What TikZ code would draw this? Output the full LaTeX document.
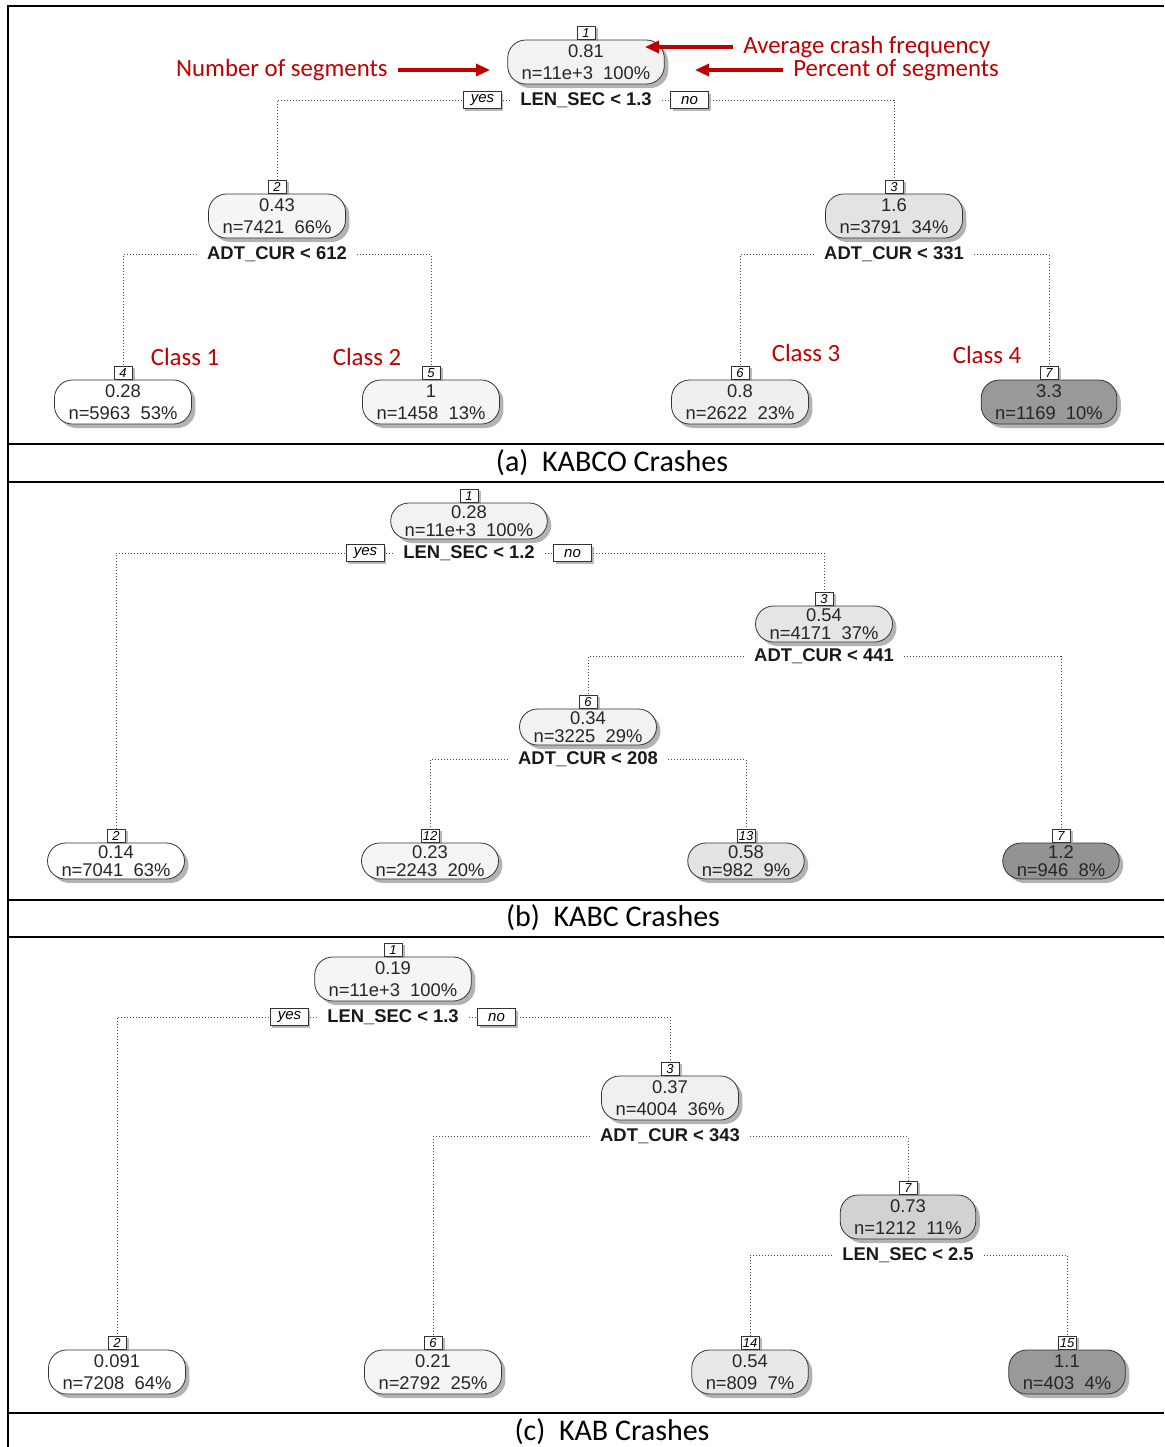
\documentclass[tikz,border=0pt]{standalone}
\usepackage{fontspec}
\setmainfont{Liberation Sans}
\newfontfamily\calibri{Carlito}
\usetikzlibrary{arrows.meta,positioning,shadows}
\definecolor{annotred}{HTML}{C00000}
\tikzstyle{treebox} = [rectangle, draw=black!80, rounded corners=9pt, align=center,
inner xsep=7pt, inner ysep=1pt, minimum height=22pt, text=black!85,
font=\fontsize{9.2}{11}\selectfont,
drop shadow={shadow xshift=2pt, shadow yshift=-2pt, fill=black!50, opacity=0.6}]
\tikzstyle{squeezed} = [minimum height=18pt, font=\fontsize{9.2}{9}\selectfont]
\tikzstyle{numbox} = [rectangle, draw=black!80, fill=white, inner sep=0.5pt,
minimum width=9pt, minimum height=6.5pt, font=\fontsize{6.5}{7}\selectfont\itshape,
drop shadow={shadow xshift=1.5pt, shadow yshift=-1pt, fill=black!45, opacity=0.6}]
\tikzstyle{splitlabel} = [inner xsep=5pt, inner ysep=0pt, text=black!90,
font=\fontsize{9.2}{11}\selectfont\bfseries]
\tikzstyle{yesno} = [rectangle, draw=black!80, fill=white, inner sep=0.5pt,
minimum width=19pt, minimum height=8.5pt, font=\fontsize{7.5}{8}\selectfont\itshape,
drop shadow={shadow xshift=1pt, shadow yshift=-1pt, fill=black!45, opacity=0.6}]
\tikzstyle{branch} = [draw=black!70, line width=0.5pt, dash pattern=on 0.5pt off 1pt]
\tikzstyle{note} = [text=annotred, inner xsep=5pt, inner ysep=1pt,
font=\calibri\fontsize{12.4}{14}\selectfont]
\tikzstyle{pointer} = [draw=annotred, line width=1.6pt, -{Triangle[length=7pt,width=6pt]}]
\tikzstyle{caption} = [font=\calibri\fontsize{15}{18}\selectfont]
\tikzstyle{frame} = [draw=black, line width=1.2pt]

\begin{document}
\begin{tikzpicture}[x=0.5pt, y=-0.5pt]
\useasboundingbox (0,0) rectangle (1164,1447);
% Frame and panel rules
\draw[frame] (8,1447) -- (8,6) -- (1164,6);
\draw[frame] (8,444) -- (1164,444);
\draw[frame] (8,482) -- (1164,482);
\draw[frame] (8,900) -- (1164,900);
\draw[frame] (8,937) -- (1164,937);
\draw[frame] (8,1413) -- (1164,1413);

% ---------------- (a) KABCO
\node [treebox, fill=gray!10] (a1) at (586,62) {0.81\\n=11e+3~~100\%};
\node [numbox, above=0pt of a1] (a1n) {1};
\node [splitlabel, below=4pt of a1] (a1s) {LEN\_SEC < 1.3};
\node [treebox, fill=gray!8] (a2) at (277,216) {0.43\\n=7421~~66\%};
\node [numbox, above=0pt of a2] (a2n) {2};
\node [splitlabel, below=4pt of a2] (a2s) {ADT\_CUR < 612};
\node [treebox, fill=gray!22] (a3) at (894,216) {1.6\\n=3791~~34\%};
\node [numbox, above=0pt of a3] (a3n) {3};
\node [splitlabel, below=4pt of a3] (a3s) {ADT\_CUR < 331};
\node [treebox, fill=white] (a4) at (123,402) {0.28\\n=5963~~53\%};
\node [numbox, above=0pt of a4] (a4n) {4};
\node [treebox, fill=gray!8] (a5) at (431,402) {1\\n=1458~~13\%};
\node [numbox, above=0pt of a5] (a5n) {5};
\node [treebox, fill=gray!13] (a6) at (740,402) {0.8\\n=2622~~23\%};
\node [numbox, above=0pt of a6] (a6n) {6};
\node [treebox, fill=gray!80] (a7) at (1049,402) {3.3\\n=1169~~10\%};
\node [numbox, above=0pt of a7] (a7n) {7};
\draw [branch] (a1s.west) -| (a2n.north);
\draw [branch] (a1s.east) -| (a3n.north);
\draw [branch] (a2s.west) -| (a4n.north);
\draw [branch] (a2s.east) -| (a5n.north);
\draw [branch] (a3s.west) -| (a6n.north);
\draw [branch] (a3s.east) -| (a7n.north);
\node [yesno, left=4pt of a1s] (a1yes) {yes};
\node [yesno, right=4pt of a1s] (a1no) {no};
% annotations
\node [note, anchor=west] (avg) at (733,47) {Average crash frequency};
\coordinate (avgtip) at (645,46);
\draw [pointer] (avg.west) -- (avg.west -| avgtip);
\node [note, anchor=west] (pseg) at (783,70) {Percent of segments};
\coordinate (psegtip) at (695,71);
\draw [pointer] (pseg.west) -- (pseg.west -| psegtip);
\node [note, anchor=east] (nseg) at (398,70) {Number of segments};
\coordinate (nsegtip) at (490,71);
\draw [pointer] (nseg.east) -- (nseg.east -| nsegtip);
\node [note] (cls1) at (185,357) {Class 1};
\node [note] (cls2) at (367,357) {Class 2};
\node [note] (cls3) at (806,353) {Class 3};
\node [note] (cls4) at (987,355) {Class 4};
\node [caption] (capa) at (612,463) {(a)\ \ KABCO Crashes};

% ---------------- (b) KABC
\node [treebox, squeezed, fill=gray!10] (b1) at (469,521) {0.28\\n=11e+3~~100\%};
\node [numbox, above=0pt of b1] (b1n) {1};
\node [splitlabel, below=3pt of b1] (b1s) {LEN\_SEC < 1.2};
\node [treebox, squeezed, fill=gray!20] (b3) at (824,624) {0.54\\n=4171~~37\%};
\node [numbox, above=0pt of b3] (b3n) {3};
\node [splitlabel, below=3pt of b3] (b3s) {ADT\_CUR < 441};
\node [treebox, squeezed, fill=gray!10] (b6) at (588,727) {0.34\\n=3225~~29\%};
\node [numbox, above=0pt of b6] (b6n) {6};
\node [splitlabel, below=3pt of b6] (b6s) {ADT\_CUR < 208};
\node [treebox, squeezed, fill=white] (b2) at (116,861) {0.14\\n=7041~~63\%};
\node [numbox, above=0pt of b2] (b2n) {2};
\node [treebox, squeezed, fill=gray!8] (b12) at (430,861) {0.23\\n=2243~~20\%};
\node [numbox, above=0pt of b12] (b12n) {12};
\node [treebox, squeezed, fill=gray!22] (b13) at (746,861) {0.58\\n=982~~9\%};
\node [numbox, above=0pt of b13] (b13n) {13};
\node [treebox, squeezed, fill=gray!85] (b7) at (1061,861) {1.2\\n=946~~8\%};
\node [numbox, above=0pt of b7] (b7n) {7};
\draw [branch] (b1s.west) -| (b2n.north);
\draw [branch] (b1s.east) -| (b3n.north);
\draw [branch] (b3s.west) -| (b6n.north);
\draw [branch] (b3s.east) -| (b7n.north);
\draw [branch] (b6s.west) -| (b12n.north);
\draw [branch] (b6s.east) -| (b13n.north);
\node [yesno, left=4pt of b1s] (b1yes) {yes};
\node [yesno, right=4pt of b1s] (b1no) {no};
\node [caption] (capb) at (613,918) {(b)\ \ KABC Crashes};

% ---------------- (c) KAB
\node [treebox, fill=gray!8] (c1) at (393,979) {0.19\\n=11e+3~~100\%};
\node [numbox, above=0pt of c1] (c1n) {1};
\node [splitlabel, below=4pt of c1] (c1s) {LEN\_SEC < 1.3};
\node [treebox, fill=gray!12] (c3) at (670,1098) {0.37\\n=4004~~36\%};
\node [numbox, above=0pt of c3] (c3n) {3};
\node [splitlabel, below=4pt of c3] (c3s) {ADT\_CUR < 343};
\node [treebox, fill=gray!35] (c7) at (908,1217) {0.73\\n=1212~~11\%};
\node [numbox, above=0pt of c7] (c7n) {7};
\node [splitlabel, below=4pt of c7] (c7s) {LEN\_SEC < 2.5};
\node [treebox, fill=white] (c2) at (117,1372) {0.091\\n=7208~~64\%};
\node [numbox, above=0pt of c2] (c2n) {2};
\node [treebox, fill=gray!8] (c6) at (433,1372) {0.21\\n=2792~~25\%};
\node [numbox, above=0pt of c6] (c6n) {6};
\node [treebox, fill=gray!18] (c14) at (750,1372) {0.54\\n=809~~7\%};
\node [numbox, above=0pt of c14] (c14n) {14};
\node [treebox, fill=gray!80] (c15) at (1067,1372) {1.1\\n=403~~4\%};
\node [numbox, above=0pt of c15] (c15n) {15};
\draw [branch] (c1s.west) -| (c2n.north);
\draw [branch] (c1s.east) -| (c3n.north);
\draw [branch] (c3s.west) -| (c6n.north);
\draw [branch] (c3s.east) -| (c7n.north);
\draw [branch] (c7s.west) -| (c14n.north);
\draw [branch] (c7s.east) -| (c15n.north);
\node [yesno, left=4pt of c1s] (c1yes) {yes};
\node [yesno, right=4pt of c1s] (c1no) {no};
\node [caption] (capc) at (612,1432) {(c)\ \ KAB Crashes};
\end{tikzpicture}
\end{document}
